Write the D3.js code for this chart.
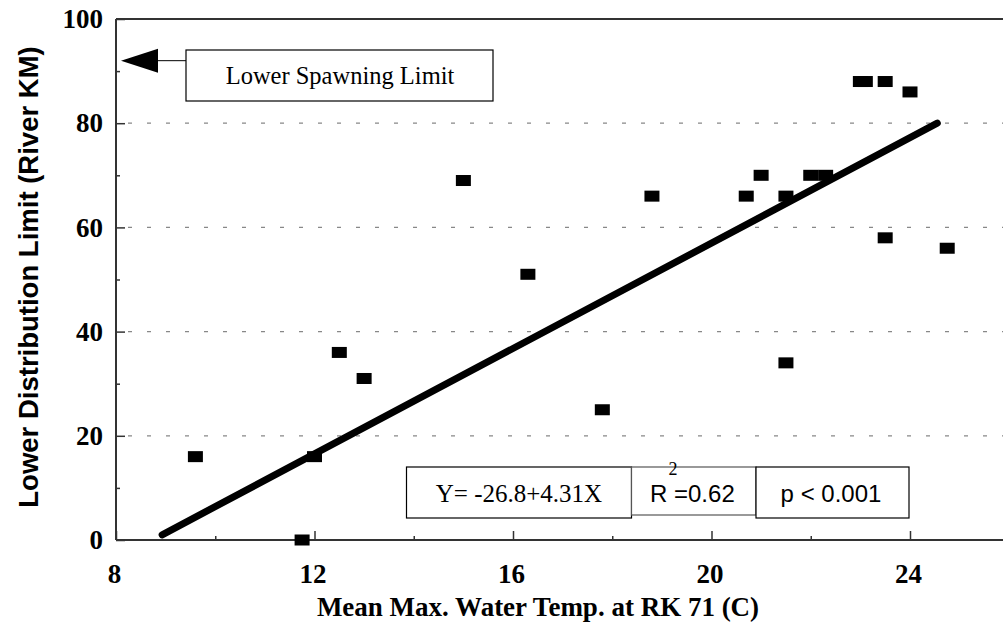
<!DOCTYPE html>
<html>
<head>
<meta charset="utf-8">
<script src="https://cdn.jsdelivr.net/npm/d3@7"></script>
<style>
  html, body { margin: 0; padding: 0; background: #fff; }
  svg { display: block; }
</style>
</head>
<body>
<svg id="chart" width="1003" height="636"></svg>
<script>
// ---- Data ----
const tempX = [9.6, 11.75, 12.0, 12.5, 13.0, 15.0, 16.3, 17.8, 18.8, 20.7, 21.0, 21.5, 21.5, 22.0, 22.3, 23.0, 23.1, 23.5, 23.5, 24.0, 24.75];
const limitY = [16, 0, 16, 36, 31, 69, 51, 25, 66, 66, 70, 66, 34, 70, 70, 88, 88, 88, 58, 86, 56];
const fitX = [8.93, 24.55];
const fitY = [1, 80];
const spawningLimit = 92;
const xMajorTicks = [8, 12, 16, 20, 24];
const xMinorTicks = [10, 14, 18, 22];
const yMajorTicks = [0, 20, 40, 60, 80, 100];
const yMinorTicks = [10, 30, 50, 70, 90];
const gridTicks = [20, 40, 60, 80];
const xTitle = "Mean Max. Water Temp. at RK 71 (C)";
const yTitle = "Lower Distribution Limit (River KM)";
const spawnLabel = "Lower Spawning Limit";
const eqLabel = "Y= -26.8+4.31X";
const r2Label = "R =0.62";
const pLabel = "p < 0.001";

// ---- Layout ----
const svg = d3.select("#chart");
const plotLeft = 116, plotTop = 19, plotBottom = 540;
const x = d3.scaleLinear().domain([8, 26]).range([plotLeft, plotLeft + 49.625 * 18]);
const y = d3.scaleLinear().domain([0, 100]).range([plotBottom, plotTop]);
const serif = "'Liberation Serif', 'Times New Roman', serif";
const sans = "'Liberation Sans', Arial, sans-serif";
const axisColor = "#333";

// gridlines
svg.append("g").selectAll("line").data(gridTicks).join("line")
  .attr("x1", plotLeft).attr("x2", 1003)
  .attr("y1", d => y(d)).attr("y2", d => y(d))
  .attr("stroke", "#888").attr("stroke-width", 1.2)
  .attr("stroke-dasharray", "4,15").attr("stroke-dashoffset", -12);

// frame top
svg.append("line").attr("x1", plotLeft).attr("x2", 1003).attr("y1", plotTop).attr("y2", plotTop)
  .attr("stroke", axisColor).attr("stroke-width", 2);

// x axis
const xAxisMajor = d3.axisBottom(x).tickValues(xMajorTicks).tickSize(-9).tickPadding(24)
  .tickFormat(d3.format("d"));
const gx = svg.append("g").attr("transform", `translate(0,${plotBottom})`).call(xAxisMajor);
gx.select(".domain").remove();
gx.selectAll(".tick line").attr("stroke", axisColor).attr("stroke-width", 1.5);
gx.selectAll(".tick text").attr("font-family", serif).attr("font-weight", "bold")
  .attr("font-size", 27).attr("fill", "#000").attr("dx", -2);
const gxm = svg.append("g").attr("transform", `translate(0,${plotBottom})`)
  .call(d3.axisBottom(x).tickValues(xMinorTicks).tickSize(-4).tickFormat(""));
gxm.select(".domain").remove();
gxm.selectAll(".tick line").attr("stroke", axisColor).attr("stroke-width", 1.5);
svg.append("line").attr("x1", plotLeft).attr("x2", 1003).attr("y1", plotBottom).attr("y2", plotBottom)
  .attr("stroke", axisColor).attr("stroke-width", 2);

// y axis
const gy = svg.append("g").attr("transform", `translate(${plotLeft},0)`)
  .call(d3.axisLeft(y).tickValues(yMajorTicks).tickSize(-9).tickPadding(13).tickFormat(d3.format("d")));
gy.select(".domain").remove();
gy.selectAll(".tick line").attr("stroke", axisColor).attr("stroke-width", 1.5);
gy.selectAll(".tick text").attr("font-family", serif).attr("font-weight", "bold")
  .attr("font-size", 27).attr("fill", "#000");
const gym = svg.append("g").attr("transform", `translate(${plotLeft},0)`)
  .call(d3.axisLeft(y).tickValues(yMinorTicks).tickSize(-4).tickFormat(""));
gym.select(".domain").remove();
gym.selectAll(".tick line").attr("stroke", axisColor).attr("stroke-width", 1.5);
svg.append("line").attr("x1", plotLeft).attr("x2", plotLeft).attr("y1", plotTop).attr("y2", plotBottom)
  .attr("stroke", axisColor).attr("stroke-width", 2);

// titles
svg.append("text").attr("x", 538).attr("y", 616).attr("text-anchor", "middle")
  .attr("font-family", serif).attr("font-weight", "bold").attr("font-size", 27)
  .text(xTitle);
svg.append("text").attr("transform", "translate(38,277) rotate(-90)").attr("text-anchor", "middle")
  .attr("font-family", sans).attr("font-weight", "bold").attr("font-size", 27.5)
  .text(yTitle);

// regression line
svg.append("line")
  .attr("x1", x(fitX[0])).attr("y1", y(fitY[0]))
  .attr("x2", x(fitX[1])).attr("y2", y(fitY[1]))
  .attr("stroke", "#000").attr("stroke-width", 7).attr("stroke-linecap", "round");

// points
const pts = tempX.map((v, i) => ({x: v, y: limitY[i]}));
svg.append("g").selectAll("rect").data(pts).join("rect")
  .attr("x", d => x(d.x) - 7.5).attr("y", d => y(d.y) - 5.5)
  .attr("width", 15).attr("height", 11).attr("fill", "#000");

// spawning limit annotation
const ay = y(spawningLimit);
svg.append("path")
  .attr("d", `M${plotLeft + 5},${ay} L${plotLeft + 42},${ay - 12} L${plotLeft + 42},${ay + 12} Z`)
  .attr("fill", "#000");
svg.append("line").attr("x1", plotLeft + 42).attr("x2", 186).attr("y1", ay).attr("y2", ay)
  .attr("stroke", "#000").attr("stroke-width", 1);
svg.append("rect").attr("x", 186).attr("y", 50).attr("width", 307).attr("height", 51)
  .attr("fill", "#fff").attr("stroke", "#000").attr("stroke-width", 1.2);
svg.append("text").attr("x", 340).attr("y", 84).attr("text-anchor", "middle")
  .attr("font-family", serif).attr("font-size", 24.5).text(spawnLabel);

// stats boxes
svg.append("rect").attr("x", 406.5).attr("y", 467).attr("width", 225).attr("height", 51)
  .attr("fill", "#fff").attr("stroke", "#000").attr("stroke-width", 1.2);
svg.append("rect").attr("x", 631.5).attr("y", 467).attr("width", 124.5).attr("height", 48)
  .attr("fill", "#fff").attr("stroke", "#555").attr("stroke-width", 1.2);
svg.append("rect").attr("x", 756).attr("y", 467).attr("width", 153).attr("height", 51)
  .attr("fill", "#fff").attr("stroke", "#000").attr("stroke-width", 1.2);
svg.append("text").attr("x", 519).attr("y", 502).attr("text-anchor", "middle")
  .attr("font-family", serif).attr("font-size", 25).text(eqLabel);
svg.append("text").attr("x", 650).attr("y", 502).attr("text-anchor", "start")
  .attr("font-family", sans).attr("font-size", 24).text(r2Label);
svg.append("text").attr("x", 673).attr("y", 474.5).attr("text-anchor", "middle")
  .attr("font-family", serif).attr("font-size", 18).text("2");
svg.append("text").attr("x", 831).attr("y", 502).attr("text-anchor", "middle")
  .attr("font-family", sans).attr("font-size", 24).text(pLabel);
</script>
</body>
</html>
